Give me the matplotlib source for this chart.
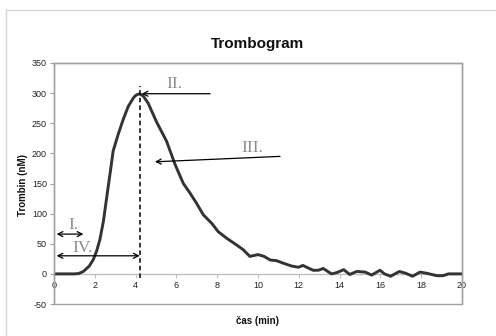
import matplotlib
matplotlib.use("Agg")
import matplotlib.pyplot as plt
from matplotlib.patches import Rectangle
from matplotlib.lines import Line2D

# ---- data ----
time_min = [0, 0.5, 1.0, 1.2, 1.44, 1.73, 1.93, 2.09, 2.25, 2.42, 2.58, 2.75, 2.9, 3.15, 3.4,
            3.64, 3.89, 4.0, 4.13, 4.25, 4.38, 4.62, 5.03, 5.52, 5.93, 6.34, 6.67, 6.99, 7.32,
            7.73, 8.05, 8.47, 8.95, 9.28, 9.6, 10.0, 10.3, 10.6, 10.9, 11.3, 11.65, 11.98, 12.2,
            12.7, 12.96, 13.2, 13.6, 13.86, 14.2, 14.5, 14.84, 15.25, 15.57, 15.98, 16.2, 16.5,
            16.93, 17.24, 17.58, 17.94, 18.27, 18.76, 19.08, 19.33, 20]
thrombin_nM = [0, 0, 0, 0.5, 4, 13, 24, 38, 57, 87, 126, 167, 204, 232, 257,
               278, 292, 296, 298.5, 298, 295, 283, 252, 220, 182, 150, 134, 117, 98,
               84, 70, 59, 48, 40, 29, 32, 29, 23, 22, 17, 13, 11, 14,
               6, 6, 9, 0, 2, 7, -1, 4, 3, -2, 6, 0, -4,
               4, 1, -4, 3, 1, -3, -3, 0, 0]
x_ticks = [0, 2, 4, 6, 8, 10, 12, 14, 16, 18, 20]
y_ticks = [-50, 0, 50, 100, 150, 200, 250, 300, 350]
peak_time = 4.2

plt.rcParams['font.family'] = ['Liberation Sans', 'DejaVu Sans']
plt.rcParams['axes.unicode_minus'] = False

W, H = 496, 336
fig = plt.figure(figsize=(W / 100, H / 100), dpi=100)
fig.patch.set_facecolor('white')

# outer chart border (light gray)
fig.add_artist(Line2D([6 / W, 1], [1 - 10 / H, 1 - 10 / H], transform=fig.transFigure,
                      color='#d4d4d4', lw=1))
fig.add_artist(Line2D([6 / W, 6 / W], [0, 1 - 10 / H], transform=fig.transFigure,
                      color='#d4d4d4', lw=1))

ax = fig.add_axes([54 / W, 32 / H, (462 - 54) / W, (304 - 63) / H])
ax.set_xlim(0, 20)
ax.set_ylim(-50, 350)

frame_c = '#a0a0a0'
for s in ['top', 'right', 'left']:
    ax.spines[s].set_color(frame_c)
    ax.spines[s].set_linewidth(1.0)
ax.spines['bottom'].set_position(('data', 0))
ax.spines['bottom'].set_color('#c0c0c0')
ax.spines['bottom'].set_linewidth(1.0)
ax.add_patch(Rectangle((0, 0), 1, 1, transform=ax.transAxes, fill=False,
                       edgecolor=frame_c, lw=1.0, zorder=5, clip_on=False))

ax.set_xticks(x_ticks)
ax.set_yticks(y_ticks)
ax.tick_params(axis='x', direction='out', length=3, width=0.8, color='#c0c0c0',
               labelsize=6.5, pad=2, labelcolor='#222222')
ax.tick_params(axis='y', direction='out', length=3, width=0.8, color=frame_c,
               labelsize=6.5, pad=2, labelcolor='#222222')

ax.plot(time_min, thrombin_nM, color='#333333', lw=2.1, solid_joinstyle='round',
        solid_capstyle='round', zorder=3)

# dashed vertical at peak time
ax.plot([peak_time, peak_time], [-7, 311], color='black', lw=1.1, ls=(0, (3, 2)), zorder=4)

ann_c = '#8c8c8c'
serif = ['Liberation Serif', 'DejaVu Serif']
ax.text(5.52, 308, 'II.', family=serif, fontsize=12.5, color=ann_c, va='baseline', ha='left')
ax.text(9.2, 203, 'III.', family=serif, fontsize=12.5, color=ann_c, va='baseline', ha='left')
ax.text(0.7, 74, 'I.', family=serif, fontsize=12.5, color=ann_c, va='baseline', ha='left')
ax.text(0.92, 36, 'IV.', family=serif, fontsize=12.5, color=ann_c, va='baseline', ha='left')

arrow_kw = dict(arrowstyle='->,head_length=0.35,head_width=0.18', color='black', lw=0.9,
                shrinkA=0, shrinkB=0)
ax.annotate('', xy=(4.3, 299), xytext=(7.65, 299), arrowprops=arrow_kw)
ax.annotate('', xy=(4.95, 186), xytext=(11.08, 195), arrowprops=arrow_kw)
darrow_kw = dict(arrowstyle='<->,head_length=0.35,head_width=0.18', color='black', lw=0.9,
                 shrinkA=0, shrinkB=0)
ax.annotate('', xy=(0.13, 66), xytext=(1.44, 66), arrowprops=darrow_kw)
ax.annotate('', xy=(0.13, 30), xytext=(peak_time, 30), arrowprops=darrow_kw)

fig.text(257.8 / W, 1 - 48.3 / H, 'Trombogram', ha='center', va='baseline',
         fontsize=11, fontweight='bold', color='#111111')
fig.text(23 / W, 1 - 185 / H, 'Trombin (nM)', ha='center', va='center', rotation=90,
         fontsize=7, fontweight='bold', color='#111111')
fig.text(257.6 / W, 1 - 321 / H, 'čas (min)', ha='center', va='center',
         fontsize=7, fontweight='bold', color='#111111')

fig.savefig('out.png', dpi=100, facecolor='white')
